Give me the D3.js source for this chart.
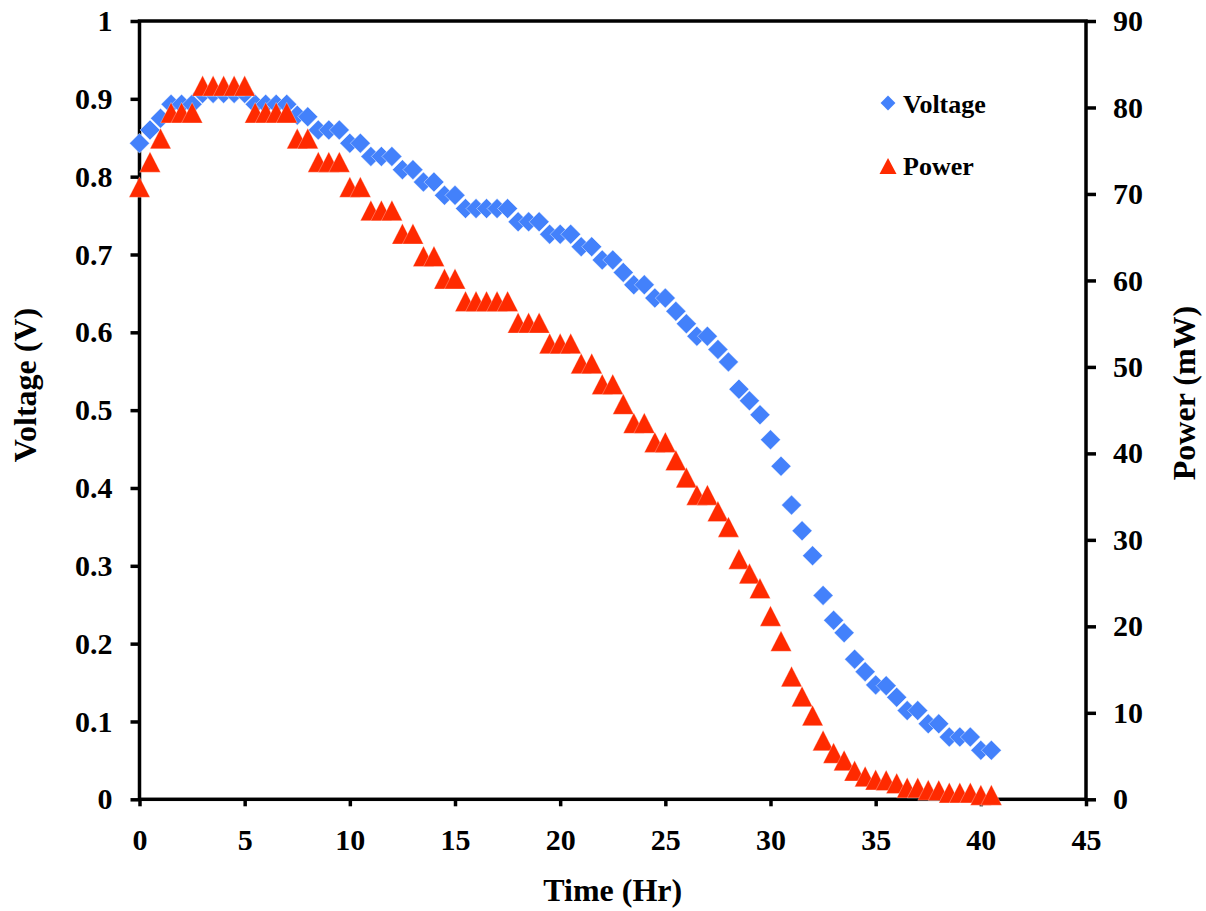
<!DOCTYPE html>
<html><head><meta charset="utf-8">
<script src="https://cdn.jsdelivr.net/npm/d3@7"></script>
<style>body{margin:0;background:#fff}svg{display:block}</style>
</head><body>
<svg id="c" width="1206" height="911"></svg>
<script>
const time = [0,0.5,1,1.5,2,2.5,3,3.5,4,4.5,5,5.5,6,6.5,7,7.5,8,8.5,9,9.5,10,10.5,11,11.5,12,12.5,13,13.5,14,14.5,15,15.5,16,16.5,17,17.5,18,18.5,19,19.5,20,20.5,21,21.5,22,22.5,23,23.5,24,24.5,25,25.5,26,26.5,27,27.5,28,28.5,29,29.5,30,30.5,31,31.5,32,32.5,33,33.5,34,34.5,35,35.5,36,36.5,37,37.5,38,38.5,39,39.5,40,40.5];
const voltage = [0.843,0.860,0.875,0.893,0.893,0.893,0.907,0.907,0.907,0.907,0.907,0.893,0.893,0.893,0.893,0.879,0.877,0.860,0.860,0.860,0.843,0.843,0.826,0.826,0.826,0.809,0.809,0.793,0.793,0.776,0.776,0.759,0.759,0.759,0.759,0.759,0.742,0.742,0.742,0.726,0.726,0.726,0.710,0.710,0.693,0.693,0.677,0.661,0.661,0.644,0.644,0.627,0.611,0.595,0.595,0.578,0.562,0.527,0.512,0.494,0.462,0.428,0.378,0.345,0.313,0.262,0.230,0.214,0.180,0.164,0.147,0.146,0.131,0.114,0.114,0.097,0.097,0.080,0.080,0.080,0.063,0.063];
const power = [70.8,73.7,76.4,79.4,79.4,79.4,82.5,82.5,82.5,82.5,82.5,79.4,79.4,79.4,79.4,76.4,76.4,73.7,73.7,73.7,70.8,70.8,68.1,68.1,68.1,65.4,65.4,62.8,62.8,60.2,60.2,57.6,57.6,57.6,57.6,57.6,55.1,55.1,55.1,52.7,52.7,52.7,50.4,50.4,48.0,48.0,45.7,43.5,43.5,41.3,41.3,39.2,37.2,35.2,35.2,33.3,31.5,27.8,26.1,24.4,21.2,18.3,14.2,11.9,9.7,6.8,5.35,4.5,3.3,2.65,2.27,2.2,1.85,1.35,1.35,1.07,1.05,0.77,0.77,0.77,0.5,0.5];
const xTicks = [0,5,10,15,20,25,30,35,40,45];
const vTicks = [0,0.1,0.2,0.3,0.4,0.5,0.6,0.7,0.8,0.9,1];
const pTicks = [0,10,20,30,40,50,60,70,80,90];
const seriesNames = ["Voltage","Power"];

const L=139.5, R=1086, T=21, B=799.3;
const svg = d3.select("#c");
const font = "'Liberation Serif','Times New Roman',serif";
const x = d3.scaleLinear().domain([0,45]).range([L,R]);
const yV = d3.scaleLinear().domain([0,1]).range([B,T]);
const yP = d3.scaleLinear().domain([0,90]).range([B,T]);
const blue = "#4381fb", red = "#ff2a00";

function styleAxis(g){
  g.selectAll(".domain").remove();
  g.selectAll(".tick line").attr("stroke","#000").attr("stroke-width",3.5);
  g.selectAll(".tick text").attr("font-family",font).attr("font-weight","bold").attr("font-size",30).attr("fill","#000");
}
const fmtV = d => d===0?"0":(d===1?"1":d3.format(".1f")(d));
svg.append("g").attr("transform",`translate(${L},0)`)
  .call(d3.axisLeft(yV).tickValues(vTicks).tickFormat(fmtV).tickSize(9).tickPadding(18))
  .call(styleAxis);
svg.append("g").attr("transform",`translate(${R},0)`)
  .call(d3.axisRight(yP).tickValues(pTicks).tickFormat(d3.format("d")).tickSize(10).tickPadding(17))
  .call(styleAxis);
svg.append("g").attr("transform",`translate(0,${B})`)
  .call(d3.axisBottom(x).tickValues(xTicks).tickFormat(d3.format("d")).tickSize(7).tickPadding(22))
  .call(styleAxis);

// frame
svg.append("rect").attr("x",L).attr("y",T).attr("width",R-L).attr("height",B-T)
  .attr("fill","none").attr("stroke","#000").attr("stroke-width",3.5);

// markers
const diamond = d3.symbol().type(d3.symbolSquare).size(200);
const tri = (cx,cy,w,h)=>`M${cx},${cy-h/2}L${cx+w/2},${cy+h/2}L${cx-w/2},${cy+h/2}Z`;
const plot = svg.append("g");
plot.selectAll("path.v").data(time).join("path").attr("class","v")
  .attr("d",diamond)
  .attr("transform",(d,i)=>`translate(${x(d)},${yV(voltage[i])}) rotate(45)`)
  .attr("fill",blue).attr("stroke","rgba(255,255,255,0.6)").attr("stroke-width",0.7);
plot.selectAll("path.p").data(time).join("path").attr("class","p")
  .attr("d",(d,i)=>tri(x(d),yP(power[i]),21,20.5))
  .attr("fill",red).attr("stroke","rgba(255,255,255,0.5)").attr("stroke-width",0.6);

// legend
const lg = svg.append("g");
lg.append("path").attr("d",d3.symbol().type(d3.symbolSquare).size(110))
  .attr("transform","translate(888,103) rotate(45)").attr("fill",blue);
lg.append("path").attr("d",tri(888,166,17,16)).attr("fill",red);
lg.selectAll("text").data(seriesNames).join("text")
  .attr("x",903).attr("y",(d,i)=>i===0?113:175)
  .attr("font-family",font).attr("font-weight","bold").attr("font-size",26).text(d=>d);

// axis titles
svg.append("text").attr("x",(L+R)/2).attr("y",901).attr("text-anchor","middle")
  .attr("font-family",font).attr("font-weight","bold").attr("font-size",32).text("Time (Hr)");
svg.append("text").attr("transform",`translate(36,385) rotate(-90)`).attr("text-anchor","middle")
  .attr("font-family",font).attr("font-weight","bold").attr("font-size",32).text("Voltage (V)");
svg.append("text").attr("transform",`translate(1195,393) rotate(-90)`).attr("text-anchor","middle")
  .attr("font-family",font).attr("font-weight","bold").attr("font-size",32).text("Power (mW)");
</script>
</body></html>
